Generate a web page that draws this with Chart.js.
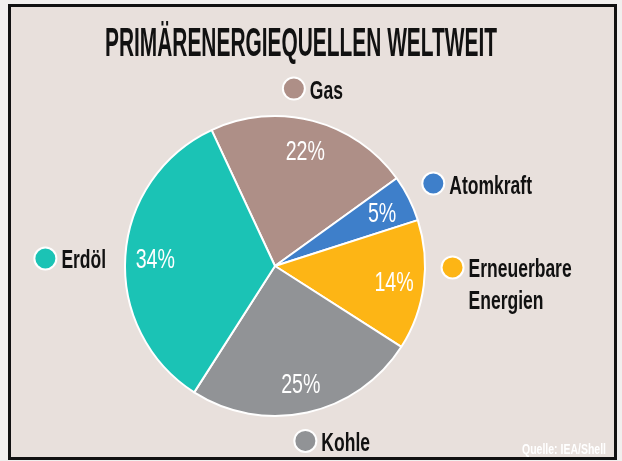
<!DOCTYPE html>
<html>
<head>
<meta charset="utf-8">
<script src="https://cdn.jsdelivr.net/npm/chart.js@4"></script>
<style>
  html, body { margin: 0; padding: 0; background: #f1efee; }
  #wrap { width: 622px; height: 461px; }
</style>
</head>
<body>
<div id="wrap"><canvas id="pie" width="622" height="461"></canvas></div>
<script>
// Primärenergiequellen weltweit (Quelle: IEA/Shell)
const categories = ["Gas", "Atomkraft", "Erneuerbare\nEnergien", "Kohle", "Erdöl"];
const shares = [22, 5, 14, 25, 34];
const sliceColors = ["#ae8f87", "#3e7fca", "#fdb515", "#919396", "#1bc3b5"];

// small nudges for the outside labels (relative to mid angle anchor)
const labelNudge = [[-25, -9], [3, -4], [5, -21], [-7, 5], [-56, 4]];

const FONT = '"Liberation Sans", Arial, sans-serif';
const SQUEEZE = 0.7;

function drawText(ctx, text, x, y, size, weight, color, align) {
  ctx.save();
  ctx.font = weight + " " + size + "px " + FONT;
  ctx.fillStyle = color;
  ctx.textBaseline = "alphabetic";
  const w = ctx.measureText(text).width * SQUEEZE;
  let x0 = x;
  if (align === "center") x0 = x - w / 2;
  if (align === "right") x0 = x - w;
  ctx.translate(x0, y);
  ctx.scale(SQUEEZE, 1);
  ctx.fillText(text, 0, 0);
  ctx.restore();
  return w;
}

const decoPlugin = {
  id: "deco",
  beforeDraw(chart) {
    const ctx = chart.ctx;
    ctx.save();
    ctx.fillStyle = "#f1efee";
    ctx.fillRect(0, 0, chart.width, chart.height);
    ctx.fillStyle = "#e8e0dc";
    ctx.fillRect(9, 5, 607, 454);
    ctx.restore();
  },
  afterDraw(chart) {
    const ctx = chart.ctx;

    // frame
    ctx.save();
    ctx.strokeStyle = "#111";
    ctx.lineWidth = 3;
    ctx.strokeRect(9.5, 5.5, 606, 453);
    ctx.restore();

    // title, squeezed to its width
    ctx.save();
    const title = "PRIMÄRENERGIEQUELLEN WELTWEIT";
    ctx.font = "bold 40px " + FONT;
    const tw = ctx.measureText(title).width;
    ctx.fillStyle = "#111";
    ctx.translate(105, 56);
    ctx.scale(392 / tw, 1);
    ctx.fillText(title, 0, 0);
    ctx.restore();

    const meta = chart.getDatasetMeta(0);
    meta.data.forEach((arc, i) => {
      const mid = (arc.startAngle + arc.endAngle) / 2;
      const r = arc.outerRadius;

      // percentage inside slice
      const px = arc.x + Math.cos(mid) * r * 0.8;
      const py = arc.y + Math.sin(mid) * r * 0.8;
      drawText(ctx, shares[i] + "%", px, py + 10, 28, "normal", "#ffffff", "center");

      // outside label with dot
      const cx = arc.x + Math.cos(mid) * r * 1.16 + labelNudge[i][0];
      const cy = arc.y + Math.sin(mid) * r * 1.16 + labelNudge[i][1];
      ctx.save();
      ctx.beginPath();
      ctx.arc(cx, cy, 11, 0, Math.PI * 2);
      ctx.fillStyle = sliceColors[i];
      ctx.fill();
      ctx.lineWidth = 2;
      ctx.strokeStyle = "#ffffff";
      ctx.stroke();
      ctx.restore();

      const lines = categories[i].split("\n");
      lines.forEach((ln, j) => {
        drawText(ctx, ln, cx + 16, cy + 10 + j * 32, 25, "bold", "#111", "left");
      });
    });

    // source
    drawText(ctx, "Quelle: IEA/Shell", 606, 454, 15, "bold", "#ffffff", "right");
  }
};

new Chart(document.getElementById("pie"), {
  type: "pie",
  data: {
    labels: categories.map((c) => c.replace("\n", " ")),
    datasets: [
      {
        data: shares,
        backgroundColor: sliceColors,
        borderColor: "#ffffff",
        borderWidth: 2,
      },
    ],
  },
  options: {
    responsive: false,
    animation: false,
    rotation: -25,
    layout: {
      padding: { left: 124, top: 115, right: 196, bottom: 44 },
    },
    plugins: {
      legend: { display: false },
      tooltip: { enabled: false },
    },
  },
  plugins: [decoPlugin],
});
</script>
</body>
</html>
